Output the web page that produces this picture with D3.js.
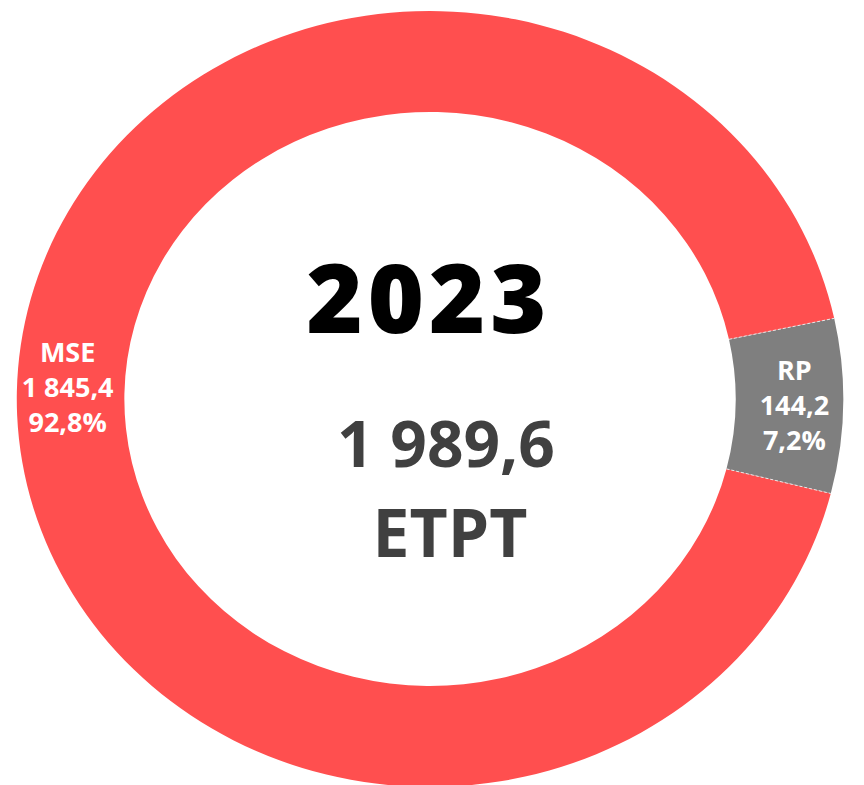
<!DOCTYPE html>
<meta charset="utf-8">
<style>
body {
  margin: 0;
  background: #fff;
  font-family: "Open Sans", "Noto Sans", Arial, sans-serif;
}
.lbl {
  fill: #fff;
  font-weight: 700;
  font-size: 27px;
}
</style>
<svg width="864" height="785"></svg>
<script src="https://cdn.jsdelivr.net/npm/d3@7"></script>
<script>

var categories = ["RP", "MSE"];
var values = [144.2, 1845.4];
var valueLabels = ["144,2", "1 845,4"];
var pctLabels = ["7,2%", "92,8%"];
var colors = ["#7f7f7f", "#ff4f4f"];
var year = "2023";
var totalLabel = "1 989,6";
var unitLabel = "ETPT";

var svg = d3.select("svg");
var cx = 430, cy = 399,
    sx = 1.065; // the donut is a bit wider than tall

var pie = d3.pie()
    .sort(null)
    .startAngle(78 * Math.PI / 180)
    .endAngle(438 * Math.PI / 180);

var arc = d3.arc()
    .innerRadius(287)
    .outerRadius(388);

var slices = pie(values);

var ring = svg.append("g")
    .attr("transform", "translate(" + cx + "," + cy + ") scale(" + sx + ",1)");

ring.selectAll("path")
  .data(slices)
  .enter()
  .append("path")
    .attr("d", arc)
    .attr("fill", function(d, i) { return colors[i]; });

// thin separators between slices
ring.selectAll("line")
  .data(slices)
  .enter()
  .append("line")
    .attr("x1", function(d) { return 287 * Math.sin(d.startAngle); })
    .attr("y1", function(d) { return -287 * Math.cos(d.startAngle); })
    .attr("x2", function(d) { return 388 * Math.sin(d.startAngle); })
    .attr("y2", function(d) { return -388 * Math.cos(d.startAngle); })
    .attr("stroke", "#e8e8e8")
    .attr("stroke-width", 1)
    .attr("stroke-dasharray", "3,2")
    .attr("vector-effect", "non-scaling-stroke");

// slice labels
var labels = svg.append("g").attr("class", "labels");
slices.forEach(function(d, i) {
  var c = arc.centroid(d);
  var x = cx + c[0] * sx + (i == 0 ? 5 : -3),
      y = cy + c[1] + (i == 0 ? 0 : -6);
  var t = labels.append("text")
      .attr("class", "lbl")
      .attr("text-anchor", "middle")
      .attr("x", x)
      .attr("y", y + 10);
  [categories[i], valueLabels[i], pctLabels[i]].forEach(function(s, k) {
    t.append("tspan")
      .attr("x", x)
      .attr("y", y + 10 + (k - 1) * 35)
      .text(s);
  });
});

// center texts
svg.append("text")
    .attr("x", 429)
    .attr("y", 333)
    .attr("text-anchor", "middle")
    .attr("font-size", 96)
    .attr("font-weight", 800)
    .attr("letter-spacing", 5)
    .attr("fill", "#000")
    .text(year);

svg.append("text")
    .attr("x", 446)
    .attr("y", 467)
    .attr("text-anchor", "middle")
    .attr("font-size", 64)
    .attr("font-weight", 700)
    .attr("fill", "#404040")
    .text(totalLabel);

svg.append("text")
    .attr("x", 450)
    .attr("y", 557)
    .attr("text-anchor", "middle")
    .attr("font-size", 66)
    .attr("font-weight", 700)
    .attr("fill", "#404040")
    .text(unitLabel);

</script>
